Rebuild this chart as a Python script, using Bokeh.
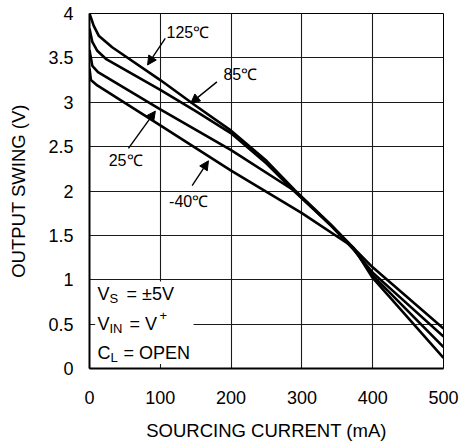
from bokeh.plotting import figure
from bokeh.models import Range1d, FixedTicker, NumeralTickFormatter, BoxAnnotation, Label, Arrow, NormalHead
from bokeh.embed import file_html
from bokeh.resources import INLINE

# ---- data ----
current_125 = [0, 6, 13, 32, 100, 150, 200, 250, 290, 340, 373, 400, 500]
swing_125 = [4.0, 3.86, 3.75, 3.62, 3.25, 2.96, 2.68, 2.34, 2.01, 1.63, 1.36, 1.02, 0.12]

current_85 = [0, 4, 11, 23, 100, 150, 200, 250, 290, 340, 373, 400, 500]
swing_85 = [3.83, 3.68, 3.58, 3.49, 3.14, 2.90, 2.65, 2.31, 1.99, 1.62, 1.35, 1.05, 0.24]

current_25 = [0, 4, 12, 100, 200, 290, 340, 373, 400, 500]
swing_25 = [3.59, 3.41, 3.34, 2.92, 2.46, 2.0, 1.62, 1.34, 1.08, 0.36]

current_m40 = [0, 2, 11, 100, 200, 300, 370, 400, 500]
swing_m40 = [3.38, 3.25, 3.19, 2.74, 2.23, 1.75, 1.38, 1.14, 0.45]

x_ticks = [0, 100, 200, 300, 400, 500]
y_ticks = [0, 0.5, 1, 1.5, 2, 2.5, 3, 3.5, 4]

FONT = "Liberation Sans"

p = figure(width=464, height=443, output_backend="svg", toolbar_location=None,
           x_range=Range1d(0, 500), y_range=Range1d(0, 4),
           min_border_left=89, min_border_right=21, min_border_top=13, min_border_bottom=75)
p.background_fill_color = "white"
p.border_fill_color = "white"
p.outline_line_color = "black"
p.outline_line_width = 1

for ax in (p.xaxis[0], p.yaxis[0]):
    ax.major_tick_line_color = None
    ax.minor_tick_line_color = None
    ax.axis_line_width = 2
    ax.axis_line_color = "black"
    ax.major_label_text_font = FONT
    ax.major_label_text_font_size = "18px"
    ax.major_label_text_color = "black"
    ax.axis_label_text_font = FONT
    ax.axis_label_text_font_size = "18.5px"
    ax.axis_label_text_font_style = "normal"
    ax.axis_label_text_color = "black"
    ax.major_tick_out = 0
    ax.major_tick_in = 0

p.xaxis.ticker = FixedTicker(ticks=x_ticks)
p.yaxis.ticker = FixedTicker(ticks=y_ticks)
p.yaxis.formatter = NumeralTickFormatter(format="0.[0]")
p.xaxis.axis_label = "SOURCING CURRENT (mA)"
p.yaxis.axis_label = "OUTPUT SWING (V)"
p.xaxis.major_label_standoff = 22
p.xaxis.axis_label_standoff = 13
p.yaxis.major_label_standoff = 16
p.yaxis.axis_label_standoff = 16

p.xgrid.ticker = FixedTicker(ticks=x_ticks)
p.ygrid.ticker = FixedTicker(ticks=y_ticks)
for g in (p.xgrid[0], p.ygrid[0]):
    g.grid_line_color = "#1a1a1a"
    g.grid_line_width = 1.1

# condition box (white background hides grid)
p.add_layout(BoxAnnotation(left=8, right=147, bottom=0.05, top=0.98,
                           fill_color="white", fill_alpha=1.0, line_alpha=0))

for xs, ys in ((current_125, swing_125), (current_85, swing_85),
               (current_25, swing_25), (current_m40, swing_m40)):
    p.line(xs, ys, line_color="black", line_width=2.6, line_join="round")

# temperature labels with arrows
def temp_label(text, x, y):
    p.add_layout(Label(x=x, y=y, text=text, text_font=FONT, text_font_size="16px",
                       text_align="center", text_baseline="middle", text_color="black"))

def arrow(x0, y0, x1, y1):
    p.add_layout(Arrow(x_start=x0, y_start=y0, x_end=x1, y_end=y1, line_width=1.4,
                       line_color="black",
                       end=NormalHead(size=9, fill_color="black", line_color="black")))

temp_label("125℃", 139, 3.79)
arrow(107, 3.72, 82, 3.42)
temp_label("85℃", 213, 3.31)
arrow(180, 3.23, 143, 2.99)
temp_label("25℃", 51, 2.34)
arrow(55, 2.48, 93, 2.90)
temp_label("-40℃", 140, 1.88)
arrow(145, 2.06, 168, 2.34)

# condition texts with sub/superscripts
def txt(text, xoff, y, size="18px", yoff=0):
    p.add_layout(Label(x=0, y=y, x_offset=xoff, y_offset=yoff, text=text, text_font=FONT,
                       text_font_size=size, text_align="left", text_baseline="middle",
                       text_color="black"))

txt("V", 8, 0.845)
txt("S", 20, 0.845, "13px", -5)
txt("= ±5V", 37, 0.845)
txt("V", 8, 0.507)
txt("IN", 20, 0.507, "13px", -5)
txt("= V", 40, 0.507)
txt("+", 70, 0.507, "13px", 8)
txt("C", 8, 0.18)
txt("L", 21, 0.18, "13px", -5)
txt("= OPEN", 34, 0.18)

open("out.html", "w").write(file_html(p, INLINE))
